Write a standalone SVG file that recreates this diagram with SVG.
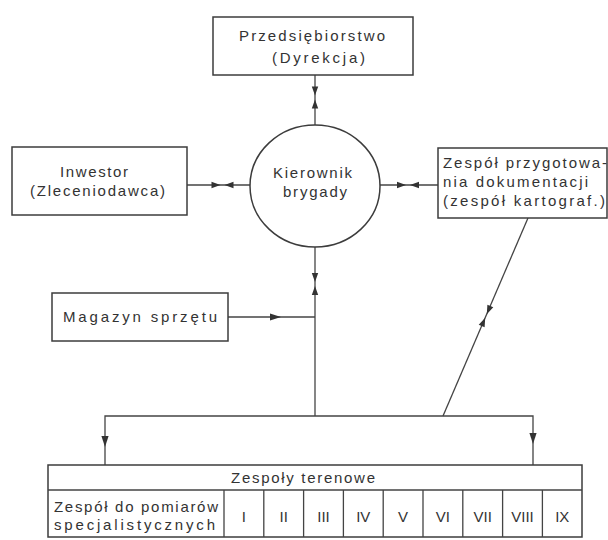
<svg xmlns="http://www.w3.org/2000/svg" width="608" height="540" viewBox="0 0 608 540">
<style>
.box{fill:#fff;stroke:#3c3c3c;stroke-width:1.5}
.ln{fill:none;stroke:#444;stroke-width:1.3}
.ah{fill:#333}
text{font-family:"Liberation Sans",Arial,sans-serif;font-size:15px;fill:#333}
.c{text-anchor:middle}
</style>
<defs>
<path id="bow" d="M-11,-3.2 L-11,3.2 L-2,0 Z M11,-3.2 L11,3.2 L2,0 Z"/>
<path id="tri" d="M0,0 L-11,-3.6 L-11,3.6 Z"/>
</defs>
<rect width="608" height="540" fill="#fff"/>

<g id="connectors">
<path class="ln" d="M315,75 V125"/>
<path class="ln" d="M187,185 H250"/>
<path class="ln" d="M380,185 H438"/>
<path class="ln" d="M315,247 V416"/>
<path class="ln" d="M228,317 H315"/>
<path class="ln" d="M528,218 L443,416"/>
<path class="ln" d="M105,465 V416 H533 V465"/>
<use class="ah" href="#bow" transform="translate(315,97.5) rotate(90)"/>
<use class="ah" href="#bow" transform="translate(222.5,185)"/>
<use class="ah" href="#bow" transform="translate(408,185)"/>
<use class="ah" href="#bow" transform="translate(315,284) rotate(90)"/>
<use class="ah" href="#bow" transform="translate(486,316) rotate(113.2)"/>
<use class="ah" href="#tri" transform="translate(281,317)"/>
<use class="ah" href="#tri" transform="translate(105,447) rotate(90)"/>
<use class="ah" href="#tri" transform="translate(533,444) rotate(90)"/>
</g>

<g id="przedsiebiorstwo">
<rect class="box" x="213" y="17" width="200" height="58"/>
<text x="239" y="41" textLength="146">Przedsiębiorstwo</text>
<text x="272" y="63" textLength="93">(Dyrekcja)</text>
</g>

<g id="inwestor">
<rect class="box" x="12" y="147" width="175" height="68"/>
<text x="60" y="177" textLength="68">Inwestor</text>
<text x="30" y="196" textLength="135">(Zleceniodawca)</text>
</g>

<g id="kierownik">
<ellipse class="box" cx="315" cy="186" rx="65" ry="61"/>
<text x="273" y="178" textLength="79">Kierownik</text>
<text x="283" y="197" textLength="64">brygady</text>
</g>

<g id="zespol-dokumentacji">
<rect class="box" x="438" y="148" width="169" height="70"/>
<text x="443" y="168" textLength="164">Zespół przygotowa-</text>
<text x="443" y="187" textLength="145">nia dokumentacji</text>
<text x="443" y="206" textLength="162">(zespół kartograf.)</text>
</g>

<g id="magazyn">
<rect class="box" x="52" y="293" width="176" height="48"/>
<text x="63" y="322" textLength="154">Magazyn sprzętu</text>
</g>

<g id="zespoly-terenowe">
<rect class="box" x="48" y="465" width="534" height="72"/>
<path class="ln" d="M48,490 H582 M224,490 V537 M263.8,490 V537 M303.6,490 V537 M343.4,490 V537 M383.2,490 V537 M423,490 V537 M462.8,490 V537 M502.6,490 V537 M542.4,490 V537"/>
<text x="231" y="483" textLength="144">Zespoły terenowe</text>
<text x="54" y="512" textLength="164">Zespół do pomiarów</text>
<text x="54" y="530" textLength="161">specjalistycznych</text>
<text class="c" x="243.9" y="522">I</text>
<text class="c" x="283.7" y="522">II</text>
<text class="c" x="323.5" y="522">III</text>
<text class="c" x="363.3" y="522">IV</text>
<text class="c" x="403.1" y="522">V</text>
<text class="c" x="442.9" y="522">VI</text>
<text class="c" x="482.7" y="522">VII</text>
<text class="c" x="522.5" y="522">VIII</text>
<text class="c" x="562.3" y="522">IX</text>
</g>
</svg>
